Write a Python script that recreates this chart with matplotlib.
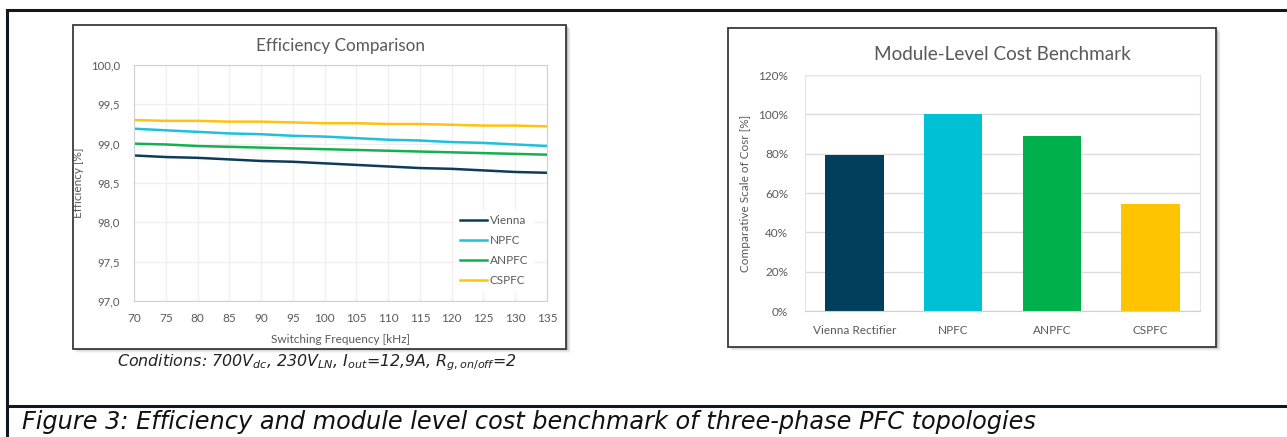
import matplotlib
matplotlib.use("Agg")
import matplotlib.pyplot as plt
from matplotlib.patches import Rectangle
from matplotlib.lines import Line2D
from matplotlib.ticker import FuncFormatter

W, H = 1287, 437

# efficiency data
freq_khz = [70, 75, 80, 85, 90, 95, 100, 105, 110, 115, 120, 125, 130, 135]
eff_vienna = [98.85, 98.83, 98.82, 98.80, 98.78, 98.77, 98.75, 98.73, 98.71, 98.69, 98.68, 98.66, 98.64, 98.63]
eff_npfc = [99.19, 99.17, 99.15, 99.13, 99.12, 99.10, 99.09, 99.07, 99.05, 99.04, 99.02, 99.01, 98.99, 98.97]
eff_anpfc = [99.00, 98.99, 98.97, 98.96, 98.95, 98.94, 98.93, 98.92, 98.91, 98.90, 98.89, 98.88, 98.87, 98.86]
eff_cspfc = [99.30, 99.29, 99.29, 99.28, 99.28, 99.27, 99.26, 99.26, 99.25, 99.25, 99.24, 99.23, 99.23, 99.22]
series_names = ["Vienna", "NPFC", "ANPFC", "CSPFC"]

# cost data, right chart
cost_labels = ["Vienna Rectifier", "NPFC", "ANPFC", "CSPFC"]
cost_values = [79.5, 100, 89, 54.3]

colors = ["#0D3C5A", "#1FC0DA", "#13B04E", "#FFC20E"]
bar_colors = ["#013F5C", "#00C0D5", "#00B04C", "#FFC300"]
txt_gray = "#595959"
ui_font = ["Lato", "DejaVu Sans"]

plt.rcParams["font.family"] = ui_font

fig = plt.figure(figsize=(W / 100, H / 100), dpi=100)


def px_rect(x0, y0, x1, y1):
    return [x0 / W, (H - y1) / H, (x1 - x0) / W, (y1 - y0) / H]


def chart_box(x0, y0, x1, y1):
    # soft shadow then the frame
    for i, a in enumerate([0.12, 0.08, 0.05, 0.03]):
        d = i + 1
        fig.patches.append(Rectangle(((x0 + d) / W, (H - y1 - d) / H), (x1 - x0 + 1) / W, (y1 - y0) / H,
                                     transform=fig.transFigure, facecolor="black", alpha=a,
                                     edgecolor="none", zorder=0))
    fig.patches.append(Rectangle((x0 / W, (H - y1) / H), (x1 - x0) / W, (y1 - y0) / H,
                                 transform=fig.transFigure, facecolor="white",
                                 edgecolor="#3A3A3A", linewidth=1.3, zorder=0.5))


# outer page frame lines
fig.add_artist(Line2D([7 / W, 1], [1 - 10 / H, 1 - 10 / H], color="#111820", lw=2.2))
fig.add_artist(Line2D([7 / W, 7 / W], [0, 1 - 10 / H], color="#111820", lw=2.2))
fig.add_artist(Line2D([7 / W, 1], [1 - 406 / H, 1 - 406 / H], color="#111820", lw=2.2))

chart_box(73, 25, 566, 349)
chart_box(728, 28, 1216, 347)

# ---- left: efficiency ----
ax1 = fig.add_axes(px_rect(134, 65, 547, 301))
ax1.set_zorder(2)
series = [eff_vienna, eff_npfc, eff_anpfc, eff_cspfc]
for name, vals, c in zip(series_names, series, colors):
    ax1.plot(freq_khz, vals, color=c, lw=1.8, label=name)
ax1.set_xlim(70, 135)
ax1.set_ylim(97, 100)
ax1.set_xticks(freq_khz)
ax1.set_yticks([97.0, 97.5, 98.0, 98.5, 99.0, 99.5, 100.0])
ax1.yaxis.set_major_formatter(FuncFormatter(lambda v, p: f"{v:.1f}".replace(".", ",")))
ax1.grid(True, color="#EFEFEF", lw=0.9)
ax1.set_axisbelow(True)
for s in ax1.spines.values():
    s.set_color("#D0D0D0")
ax1.tick_params(length=0, labelsize=8.5, colors=txt_gray)
ax1.tick_params(axis="x", pad=9)
ax1.tick_params(axis="y", pad=10, labelsize=8.2)
ax1.set_xlabel("Switching Frequency [kHz]", fontsize=8.5, color=txt_gray, labelpad=7)
ax1.set_ylabel("Efficiency [%]", fontsize=8.5, color=txt_gray, labelpad=5)
ax1.set_title("Efficiency Comparison", fontsize=12.3, color=txt_gray, pad=10)
leg = ax1.legend(loc="lower right", frameon=True, fontsize=8.5, handlelength=2.3,
                 handletextpad=0.2, labelspacing=0.78, borderaxespad=0,
                 bbox_to_anchor=(0.966, 0.042))
leg.get_frame().set_edgecolor("white")
leg.get_frame().set_alpha(1)
for t in leg.get_texts():
    t.set_color(txt_gray)

fig.text(317 / W, 1 - 363 / H,
         r"Conditions: 700V$_{\mathit{dc}}$, 230V$_{\mathit{LN}}$, $\mathit{I}_{\mathit{out}}$=12,9A, "
         r"$\mathit{R}_{\mathit{g,on/off}}$=2",
         ha="center", va="center", fontsize=11.4, style="italic", family="DejaVu Sans", color="#222222")

# ---- right: cost ----
ax2 = fig.add_axes(px_rect(805, 75, 1200, 311))
ax2.set_zorder(2)
ax2.bar(cost_labels, cost_values, width=0.59, color=bar_colors, zorder=2)
ax2.set_xlim(-0.5, 3.5)
ax2.set_ylim(0, 120)
ax2.set_yticks(range(0, 121, 20))
ax2.yaxis.set_major_formatter(FuncFormatter(lambda v, p: f"{v:.0f}%"))
ax2.grid(True, axis="y", color="#DCDCDC", lw=1.0)
ax2.set_axisbelow(True)
for k, s in ax2.spines.items():
    s.set_color("#E4E4E4")
ax2.spines["bottom"].set_color("#D0D0D0")
ax2.tick_params(length=0, labelsize=8.5, colors=txt_gray)
ax2.tick_params(axis="x", pad=10)
ax2.tick_params(axis="y", pad=12)
ax2.set_ylabel("Comparative Scale of Cosr [%]", fontsize=8.5, color=txt_gray, labelpad=5)
ax2.set_title("Module-Level Cost Benchmark", fontsize=13.6, color=txt_gray, pad=11)

fig.text(22 / W, 1 - 422 / H,
         "Figure 3: Efficiency and module level cost benchmark of three-phase PFC topologies",
         ha="left", va="center", fontsize=17.3, style="italic", family="DejaVu Sans", color="#111111")

fig.savefig("out.png", dpi=100, facecolor="white")
